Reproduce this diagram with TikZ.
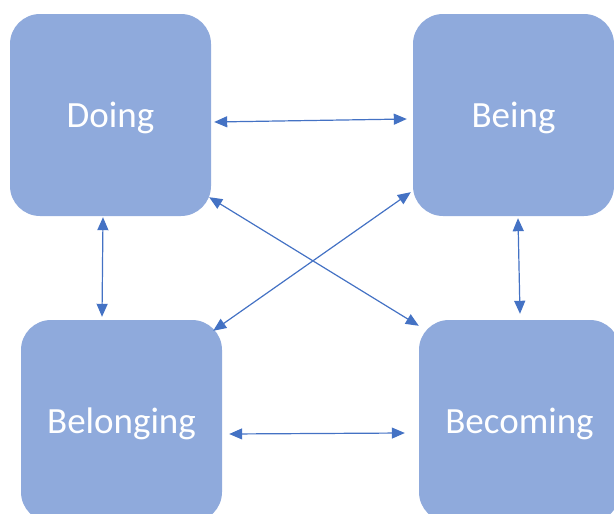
\documentclass[tikz,border=0pt]{standalone}
\usepackage{fontspec}
\setmainfont{Carlito}
\usetikzlibrary{arrows.meta,calc}
\definecolor{boxfill}{HTML}{8FAADC}
\definecolor{arrowblue}{HTML}{4472C4}
\tikzset{
  card/.style={draw=none, fill=boxfill, rounded corners=30pt, minimum width=201pt, minimum height=202pt, inner sep=0pt, text=white, text height=24pt, text depth=0pt, font=\fontsize{37}{40}\selectfont},
  link/.style={draw=arrowblue, line width=1.2pt, {Triangle[length=13pt,width=11pt]}-{Triangle[length=13pt,width=11pt]}}
}
\begin{document}
\begin{tikzpicture}[x=1pt,y=-1pt]
\useasboundingbox (0,0) rectangle (614,514);
\clip (0,0) rectangle (614,514);
\node[card] (doing) at (110.5,115) {Doing};
\node[card] (being) at (513.5,115) {Being};
\node[card] (belonging) at (121.5,421) {Belonging};
\node[card] (becoming) at (519.5,421) {Becoming};
\draw[link] ($(doing.east)+(3,7)$) -- ($(being.west)+(-6,4)$);
\draw[link] ($(belonging.east)+(7,13)$) -- ($(becoming.west)+(-14,12)$);
\draw[link] ($(doing.south)+(-7.5,1)$) -- ($(belonging.north)+(-19.5,-3)$);
\draw[link] ($(being.south)+(4.5,2)$) -- ($(becoming.north)+(0.5,-6)$);
\draw[link] ($(doing.south east)+(-2,-19)$) -- ($(becoming.north west)+(0,6)$);
\draw[link] ($(being.south west)+(-2,-24)$) -- ($(belonging.north east)+(-9,11)$);
\end{tikzpicture}
\end{document}
